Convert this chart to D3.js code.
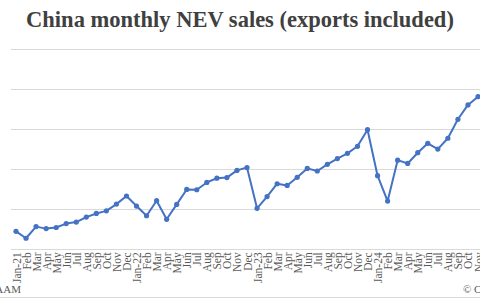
<!DOCTYPE html>
<html>
<head>
<meta charset="utf-8">
<script src="https://cdn.jsdelivr.net/npm/d3@7"></script>
<style>
  html, body { margin: 0; padding: 0; background: #fff; }
  svg { display: block; }
</style>
</head>
<body>
<script>
// Categories (months Jan-21 .. Nov-24)
const monthNames = ["Jan","Feb","Mar","Apr","May","Jun","Jul","Aug","Sep","Oct","Nov","Dec"];
const years = ["21","22","23","24"];
const monthsShown = 47;
const categories = [];
for (let i = 0; i < monthsShown; i++) {
  const m = i % 12, y = Math.floor(i / 12);
  categories.push(m === 0 ? `Jan-${years[y]}` : monthNames[m]);
}
// Monthly NEV sales (10,000 units), exports included
const sales2021 = [17.9, 11.0, 22.6, 20.6, 21.7, 25.6, 27.1, 32.1, 35.7, 38.3, 45.0, 53.1];
const sales2022 = [43.1, 33.4, 48.4, 29.9, 44.7, 59.6, 59.3, 66.6, 70.8, 71.4, 78.6, 81.4];
const sales2023 = [40.8, 52.5, 65.3, 63.6, 71.7, 80.6, 78.0, 84.6, 90.4, 95.6, 102.6, 119.1];
const sales2024 = [73.3, 48.0, 88.8, 85.5, 96.2, 105.6, 99.8, 110.6, 129.5, 143.8, 152.0];
const sales = [...sales2021, ...sales2022, ...sales2023, ...sales2024];
const yTicks = [0, 40, 80, 120, 160, 200];

const W = 480, H = 300;
const svg = d3.select("body").append("svg").attr("width", W).attr("height", H);

const x = d3.scalePoint().domain(d3.range(categories.length)).range([16, 478]);
const y = d3.scaleLinear().domain([0, 200]).range([249.3, 48.5]);

// Title
const title = svg.append("text")
  .attr("x", 240).attr("y", 27)
  .attr("text-anchor", "middle")
  .attr("font-family", "Liberation Serif, Times New Roman, serif")
  .attr("font-weight", "bold")
  .attr("font-size", 22.5)
  .attr("fill", "#404040")
  .text("China monthly NEV sales (exports included)");

// Gridlines
svg.append("g")
  .selectAll("line")
  .data(yTicks)
  .join("line")
  .attr("x1", 11).attr("x2", W)
  .attr("y1", d => Math.round(y(d)) + 0.5)
  .attr("y2", d => Math.round(y(d)) + 0.5)
  .attr("stroke", "#d9d9d9")
  .attr("stroke-width", 1);

// X axis labels
const xAxis = d3.axisBottom(x).tickSize(0).tickFormat(i => categories[i]);
const gx = svg.append("g").attr("transform", `translate(0,${y(0)})`).call(xAxis);
gx.select(".domain").remove();
gx.selectAll("text")
  .attr("font-family", "Liberation Serif, Times New Roman, serif")
  .attr("font-size", 11.5)
  .attr("fill", "#595959")
  .attr("transform", "rotate(-90)")
  .attr("text-anchor", "end")
  .attr("x", -3)
  .attr("y", 0)
  .attr("dy", "0.35em");

// Line
const line = d3.line().x((d, i) => x(i)).y(d => y(d));
svg.append("path")
  .datum(sales)
  .attr("d", line)
  .attr("fill", "none")
  .attr("stroke", "#4472C4")
  .attr("stroke-width", 2)
  .attr("stroke-linejoin", "round");

svg.append("g")
  .selectAll("circle")
  .data(sales)
  .join("circle")
  .attr("cx", (d, i) => x(i))
  .attr("cy", d => y(d))
  .attr("r", 2.6)
  .attr("fill", "#4472C4");

// Source and copyright (cropped at the edges, as in the reference)
svg.append("text")
  .attr("x", 21).attr("y", 293)
  .attr("text-anchor", "end")
  .attr("font-family", "Liberation Serif, Times New Roman, serif")
  .attr("font-size", 11)
  .attr("fill", "#595959")
  .text("Source: CAAM");
svg.append("text")
  .attr("x", 463).attr("y", 293)
  .attr("font-family", "Liberation Serif, Times New Roman, serif")
  .attr("font-size", 11)
  .attr("fill", "#595959")
  .text("© CnEVPost");

// Bottom border
svg.append("line")
  .attr("x1", 0).attr("x2", W).attr("y1", 297.5).attr("y2", 297.5)
  .attr("stroke", "#d9d9d9");
</script>
</body>
</html>
